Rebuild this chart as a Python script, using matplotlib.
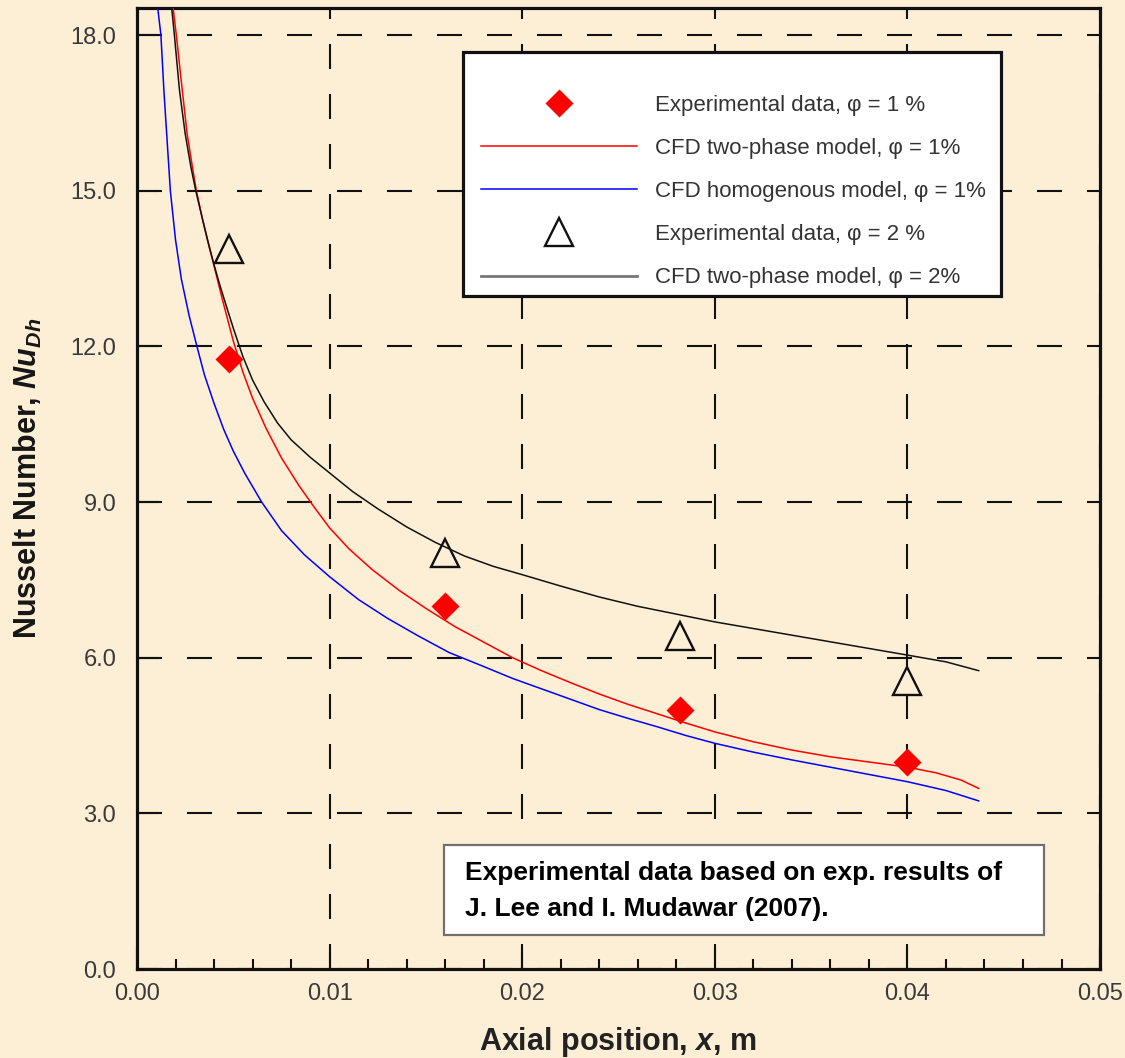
import matplotlib
matplotlib.use('Agg')
import matplotlib.pyplot as plt
from matplotlib.lines import Line2D
from matplotlib.patches import Rectangle
from matplotlib.ticker import MultipleLocator, FormatStrFormatter

# experimental points (Lee & Mudawar 2007)
exp_x = [0.0048, 0.0160, 0.0282, 0.0400]
exp1_nu = [11.75, 7.00, 4.99, 3.99]
exp2_nu = [13.88, 8.02, 6.42, 5.55]

# CFD two-phase model, phi = 1%
red_x = [0.00185, 0.00204, 0.0023, 0.0026, 0.0029, 0.00308, 0.0034, 0.0037, 0.0040, 0.0044,
         0.0050, 0.0055, 0.0060, 0.0067, 0.0075, 0.0084, 0.0092, 0.0100, 0.0110, 0.0122,
         0.0136, 0.0150, 0.0165, 0.0180, 0.0195, 0.0210, 0.0225, 0.0240, 0.0255, 0.0270,
         0.0285, 0.0300, 0.0320, 0.0340, 0.0360, 0.0380, 0.0400, 0.0415, 0.0428, 0.0437]
red_nu = [18.6, 18.0, 17.1, 16.1, 15.4, 15.0, 14.45, 13.98, 13.55, 12.95,
          12.1, 11.5, 11.0, 10.42, 9.85, 9.32, 8.9, 8.5, 8.1, 7.7,
          7.3, 6.95, 6.6, 6.3, 6.0, 5.75, 5.52, 5.3, 5.1, 4.92,
          4.74, 4.57, 4.38, 4.22, 4.09, 3.99, 3.89, 3.78, 3.64, 3.48]

# CFD homogenous model, phi = 1%
blue_x = [0.00105, 0.00124, 0.0014, 0.0016, 0.00173, 0.0020, 0.0023, 0.0027, 0.00311, 0.0035,
          0.0040, 0.0045, 0.0050, 0.0056, 0.00647, 0.0075, 0.0087, 0.0100, 0.0115, 0.0130,
          0.0146, 0.0162, 0.0178, 0.0195, 0.0210, 0.0225, 0.0240, 0.0255, 0.0270, 0.0285,
          0.0300, 0.0320, 0.0340, 0.0360, 0.0380, 0.0400, 0.0420, 0.0437]
blue_nu = [18.6, 18.0, 16.9, 15.75, 15.0, 14.05, 13.3, 12.6, 12.0, 11.45,
           10.9, 10.4, 9.98, 9.55, 9.0, 8.45, 7.98, 7.56, 7.12, 6.76,
           6.42, 6.1, 5.86, 5.6, 5.4, 5.2, 5.0, 4.83, 4.67, 4.5,
           4.35, 4.18, 4.03, 3.89, 3.75, 3.61, 3.44, 3.24]

# CFD two-phase model, phi = 2%
black_x = [0.00178, 0.00194, 0.0022, 0.0025, 0.0028, 0.00305, 0.0034, 0.0037, 0.0040, 0.0043,
           0.0046, 0.0050, 0.0055, 0.0060, 0.0066, 0.0073, 0.0080, 0.0090, 0.0100, 0.0112,
           0.0125, 0.0140, 0.0155, 0.0170, 0.0185, 0.0200, 0.0220, 0.0240, 0.0260, 0.0280,
           0.0300, 0.0325, 0.0350, 0.0375, 0.0400, 0.0420, 0.0437]
black_nu = [18.6, 18.0, 16.95, 16.1, 15.45, 15.0, 14.45, 14.0, 13.57, 13.18,
            12.82, 12.35, 11.8, 11.35, 10.93, 10.52, 10.2, 9.86, 9.56, 9.2,
            8.87, 8.52, 8.22, 7.96, 7.76, 7.6, 7.38, 7.17, 6.99, 6.84,
            6.69, 6.53, 6.37, 6.21, 6.05, 5.92, 5.75]

labels = ['Experimental data, \u03c6 = 1 %',
          'CFD two-phase model, \u03c6 = 1%',
          'CFD homogenous model, \u03c6 = 1%',
          'Experimental data, \u03c6 = 2 %',
          'CFD two-phase model, \u03c6 = 2%']
note = 'Experimental data based on exp. results of\nJ. Lee and I. Mudawar (2007).'

BG = '#fcefd6'


def main():
    plt.rcParams['font.family'] = ['Liberation Sans', 'DejaVu Sans']
    plt.rcParams['mathtext.fontset'] = 'custom'
    plt.rcParams['mathtext.rm'] = 'Liberation Sans'
    plt.rcParams['mathtext.it'] = 'Liberation Sans:italic'
    plt.rcParams['mathtext.bf'] = 'Liberation Sans:bold'
    plt.rcParams['mathtext.bfit'] = 'Liberation Sans:italic:bold'

    fig = plt.figure(figsize=(11.25, 10.58), dpi=100)
    fig.patch.set_facecolor(BG)
    ax = fig.add_axes([0.1218, 0.0841, 0.856, 0.9083])
    ax.set_facecolor(BG)

    l_red, = ax.plot(red_x, red_nu, color='#ff0000', lw=1.1, zorder=3)
    l_blue, = ax.plot(blue_x, blue_nu, color='#0000ff', lw=1.1, zorder=3)
    l_black, = ax.plot(black_x, black_nu, color='#111111', lw=1.1, zorder=3)
    m_dia, = ax.plot(exp_x, exp1_nu, 'D', color='#ff0000', ms=14, mec='none', zorder=4)
    m_tri, = ax.plot(exp_x, exp2_nu, '^', mfc='none', mec='#111111', mew=1.7, ms=20, zorder=4)

    ax.set_xlim(0, 0.05)
    ax.set_ylim(0, 18.52)
    ax.xaxis.set_major_locator(MultipleLocator(0.01))
    ax.xaxis.set_minor_locator(MultipleLocator(0.002))
    ax.yaxis.set_major_locator(MultipleLocator(3))
    ax.xaxis.set_major_formatter(FormatStrFormatter('%.2f'))
    ax.yaxis.set_major_formatter(FormatStrFormatter('%.1f'))
    ax.tick_params(which='major', direction='in', length=16, width=1.5,
                   labelsize=17, labelcolor='#3a3a3a', color='#111111')
    ax.tick_params(axis='x', which='minor', direction='in', length=7, width=1.5, color='#111111')
    ax.tick_params(axis='x', which='major', pad=10)
    ax.tick_params(axis='y', which='major', pad=15)
    ax.grid(True, which='major', color='#111111', lw=1.5, ls=(0, (12, 12)))
    for s in ax.spines.values():
        s.set_linewidth(2.3)
        s.set_color('#111111')

    ax.set_ylabel(r'Nusselt Number, $\bfit{Nu}_{\bfit{Dh}}$', fontsize=22,
                  fontweight='bold', color='#161616')
    ax.yaxis.set_label_coords(-0.097, 0.511)
    ax.set_xlabel(r'Axial position, $\bfit{x}$, m', fontsize=22,
                  fontweight='bold', color='#222222')
    ax.xaxis.set_label_coords(0.5, -0.058)

    # legend box
    ax.add_patch(Rectangle((0.338, 0.700), 0.559, 0.254, transform=ax.transAxes,
                           fc='white', ec='#111111', lw=2.3, zorder=5))
    l_gray = Line2D([], [], color='#777777', lw=2)
    handles = [m_dia, l_red, l_blue, m_tri, l_gray]
    leg = ax.legend(handles, labels, loc='upper left', bbox_to_anchor=(0.3576, 0.910),
                    frameon=False, borderpad=0, borderaxespad=0, handlelength=7.0,
                    handletextpad=0.8, labelspacing=1.0, fontsize=16, numpoints=1)
    leg.set_zorder(6)
    for t in leg.get_texts():
        t.set_color('#333333')

    # note box
    ax.add_patch(Rectangle((0.319, 0.035), 0.623, 0.094, transform=ax.transAxes,
                           fc='white', ec='#707070', lw=1.6, zorder=5))
    ax.text(0.341, 0.081, note, transform=ax.transAxes, ha='left', va='center',
            fontsize=19, fontweight='bold', linespacing=1.65, zorder=6, color='black')

    fig.savefig('out.png', dpi=100, facecolor=BG)


if __name__ == '__main__':
    main()
